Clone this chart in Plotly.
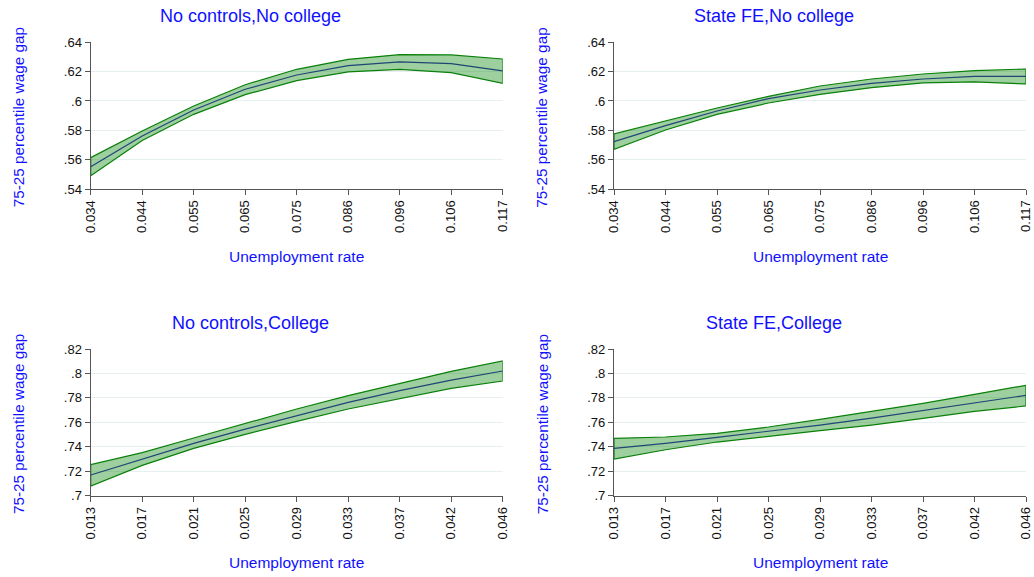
import plotly.graph_objects as go

# ---------------- data ----------------
x_nocol = ["0.034", "0.044", "0.055", "0.065", "0.075", "0.086", "0.096", "0.106", "0.117"]
x_col = ["0.013", "0.017", "0.021", "0.025", "0.029", "0.033", "0.037", "0.042", "0.046"]

nc_nocol_mid = [0.5552, 0.5761, 0.5939, 0.6080, 0.6177, 0.6241, 0.6266, 0.6255, 0.6205]
nc_nocol_hi = [0.5614, 0.5795, 0.5966, 0.6111, 0.6216, 0.6284, 0.6316, 0.6314, 0.6286]
nc_nocol_lo = [0.5490, 0.5730, 0.5909, 0.6043, 0.6139, 0.6198, 0.6216, 0.6193, 0.6120]

fe_nocol_mid = [0.5723, 0.5832, 0.5932, 0.6016, 0.6075, 0.6120, 0.6150, 0.6168, 0.6168]
fe_nocol_hi = [0.5775, 0.5864, 0.5952, 0.6032, 0.6102, 0.6150, 0.6184, 0.6207, 0.6218]
fe_nocol_lo = [0.5670, 0.5802, 0.5909, 0.5986, 0.6045, 0.6091, 0.6123, 0.6130, 0.6116]

nc_col_mid = [0.7169, 0.7297, 0.7428, 0.7545, 0.7657, 0.7764, 0.7859, 0.7946, 0.8020]
nc_col_hi = [0.7254, 0.7352, 0.7472, 0.7589, 0.7709, 0.7818, 0.7919, 0.8017, 0.8102]
nc_col_lo = [0.7079, 0.7248, 0.7387, 0.7502, 0.7608, 0.7709, 0.7794, 0.7878, 0.7938]

fe_col_mid = [0.7387, 0.7428, 0.7477, 0.7526, 0.7578, 0.7635, 0.7695, 0.7761, 0.7821]
fe_col_hi = [0.7469, 0.7480, 0.7510, 0.7562, 0.7624, 0.7687, 0.7755, 0.7829, 0.7903]
fe_col_lo = [0.7300, 0.7376, 0.7439, 0.7488, 0.7532, 0.7578, 0.7632, 0.7690, 0.7734]

y_ticks_nocol = [0.54, 0.56, 0.58, 0.60, 0.62, 0.64]
y_text_nocol = [".54", ".56", ".58", ".6", ".62", ".64"]
y_ticks_col = [0.70, 0.72, 0.74, 0.76, 0.78, 0.80, 0.82]
y_text_col = [".7", ".72", ".74", ".76", ".78", ".8", ".82"]

titles = ["No controls,No college", "State FE,No college", "No controls,College", "State FE,College"]
x_title = "Unemployment rate"
y_title = "75-25 percentile wage gap"

# ---------------- styling ----------------
W, H = 1034, 577
FONT = "Liberation Sans, Arial, sans-serif"
BLUE = "#1010ff"
FILL = "rgba(0,128,0,0.38)"
EDGE = "#0a800a"
MID = "#1f4677"
GRID = "#e8eff1"
AXIS = "#555555"

panels = [
    dict(x=x_nocol, mid=nc_nocol_mid, hi=nc_nocol_hi, lo=nc_nocol_lo,
         yt=y_ticks_nocol, ytt=y_text_nocol, xd=(90.7, 502.7), yd=(42.3, 189.0)),
    dict(x=x_nocol, mid=fe_nocol_mid, hi=fe_nocol_hi, lo=fe_nocol_lo,
         yt=y_ticks_nocol, ytt=y_text_nocol, xd=(614.0, 1026.0), yd=(42.3, 189.0)),
    dict(x=x_col, mid=nc_col_mid, hi=nc_col_hi, lo=nc_col_lo,
         yt=y_ticks_col, ytt=y_text_col, xd=(90.7, 502.7), yd=(349.0, 495.7)),
    dict(x=x_col, mid=fe_col_mid, hi=fe_col_hi, lo=fe_col_lo,
         yt=y_ticks_col, ytt=y_text_col, xd=(614.0, 1026.0), yd=(349.0, 495.7)),
]

fig = go.Figure()
annotations = []
layout_axes = {}

for i, p in enumerate(panels, start=1):
    xa = "x" if i == 1 else f"x{i}"
    ya = "y" if i == 1 else f"y{i}"
    xs = p["x"]
    poly_x = list(xs) + list(reversed(xs)) + [xs[0]]
    poly_y = list(p["hi"]) + list(reversed(p["lo"])) + [p["hi"][0]]
    fig.add_trace(go.Scatter(x=poly_x, y=poly_y, fill="toself", fillcolor=FILL,
                             line=dict(color=EDGE, width=1.2), mode="lines",
                             xaxis=xa, yaxis=ya, showlegend=False, hoverinfo="skip"))
    fig.add_trace(go.Scatter(x=xs, y=p["mid"], mode="lines",
                             line=dict(color=MID, width=1.2),
                             xaxis=xa, yaxis=ya, showlegend=False))

    x0, x1 = p["xd"]
    y0, y1 = p["yd"]
    xkey = "xaxis" if i == 1 else f"xaxis{i}"
    ykey = "yaxis" if i == 1 else f"yaxis{i}"
    layout_axes[xkey] = dict(
        domain=[x0 / W, x1 / W], anchor=ya, type="category", automargin=False,
        categoryorder="array", categoryarray=xs, range=[0, len(xs) - 1],
        tickangle=-90, ticks="outside", ticklen=5, tickcolor=AXIS,
        showline=True, linecolor=AXIS, linewidth=1.3, showgrid=False,
        zeroline=False, tickfont=dict(family=FONT, size=13, color="#111111"),
    )
    layout_axes[ykey] = dict(
        domain=[1 - y1 / H, 1 - y0 / H], anchor=xa, automargin=False,
        range=[p["yt"][0], p["yt"][-1]], tickvals=p["yt"], ticktext=p["ytt"],
        ticks="outside", ticklen=5, tickcolor=AXIS,
        showline=True, linecolor=AXIS, linewidth=1.3,
        showgrid=True, gridcolor=GRID, gridwidth=1, zeroline=False,
        tickfont=dict(family=FONT, size=13, color="#111111"),
    )

    cx = (x0 + x1) / 2
    annotations.append(dict(text=titles[i - 1], x=(cx - 46) / W, y=1 - (y0 - 26) / H,
                            xref="paper", yref="paper", showarrow=False,
                            xanchor="center", yanchor="middle",
                            font=dict(family=FONT, size=18, color=BLUE)))
    annotations.append(dict(text=x_title, x=cx / W, y=1 - (y1 + 67) / H,
                            xref="paper", yref="paper", showarrow=False,
                            xanchor="center", yanchor="middle",
                            font=dict(family=FONT, size=15.5, color=BLUE)))
    annotations.append(dict(text=y_title, x=(x0 - 72) / W, y=1 - ((y0 + y1) / 2 + 2) / H,
                            xref="paper", yref="paper", showarrow=False, textangle=-90,
                            xanchor="center", yanchor="middle",
                            font=dict(family=FONT, size=15.3, color=BLUE)))

fig.update_layout(
    template="none",
    width=W, height=H, margin=dict(l=0, r=0, t=0, b=0, autoexpand=False),
    paper_bgcolor="white", plot_bgcolor="white",
    annotations=annotations, **layout_axes,
)

fig.write_html("out.html", config={"displayModeBar": False},
               post_script="document.body.style.margin='0';document.body.style.overflow='hidden';")
